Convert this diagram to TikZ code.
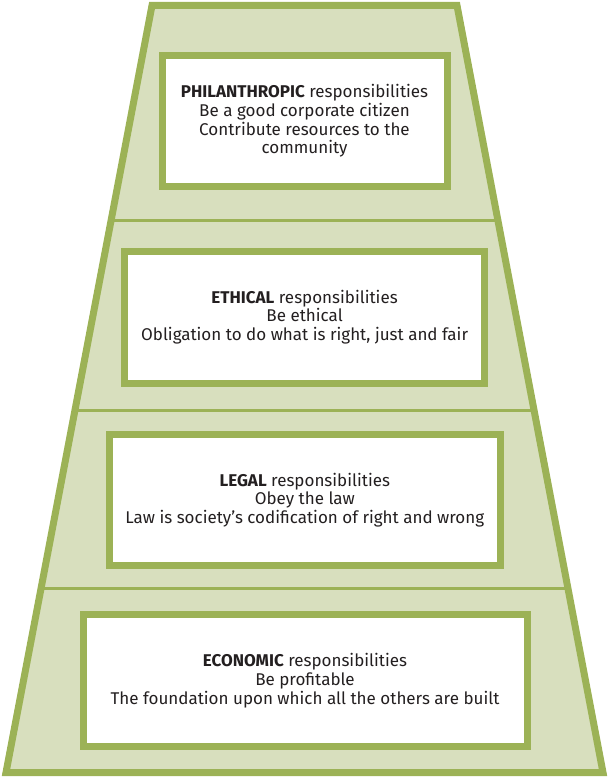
\documentclass[tikz,border=0pt]{standalone}
\usepackage{fontspec}
\setmainfont{Fira Sans}
\usetikzlibrary{calc}
\definecolor{pgreen}{HTML}{9CB256}
\definecolor{pfill}{HTML}{D8DFBE}
\definecolor{ptext}{HTML}{231F20}
\tikzset{
  levelbox/.style={draw=pgreen, line width=7pt, fill=white, align=center,
    font=\fontsize{17}{18.7}\selectfont, text=ptext, inner sep=0pt},
  divider/.style={draw=pgreen, line width=3pt},
}
\begin{document}
\begin{tikzpicture}[x=1pt,y=-1pt]
\useasboundingbox (0,0) rectangle (609,778);
\coordinate (tl) at (152,5.5);
\coordinate (tr) at (457,5.5);
\coordinate (br) at (603,772.5);
\coordinate (bl) at (6,772.5);
\filldraw[fill=pfill, draw=pgreen, line width=7pt, line join=miter] (tl) -- (tr) -- (br) -- (bl) -- cycle;
\foreach \yy/\nm in {221/a,410/b,588/c}{
  \coordinate (L\nm) at ($(tl)!{(\yy-5.5)/767}!(bl)$);
  \coordinate (R\nm) at ($(tr)!{(\yy-5.5)/767}!(br)$);
}
\draw[divider] (La) -- (Ra);
\draw[divider] (Lb) -- (Rb);
\draw[divider] (Lc) -- (Rc);
\node[levelbox, minimum width=285pt, minimum height=130.5pt] (phil) at (304.5,121)
  {\textbf{PHILANTHROPIC} responsibilities\\Be a good corporate citizen\\Contribute resources to the\\community};
\node[levelbox, minimum width=360pt, minimum height=132pt] (eth) at (304.6,317)
  {\textbf{ETHICAL} responsibilities\\Be ethical\\Obligation to do what is right, just and fair};
\node[levelbox, minimum width=391.5pt, minimum height=131pt] (leg) at (304.8,500)
  {\textbf{LEGAL} responsibilities\\Obey the law\\Law is society’s codification of right and wrong};
\node[levelbox, minimum width=444pt, minimum height=132pt] (eco) at (305,680.5)
  {\textbf{ECONOMIC} responsibilities\\Be profitable\\The foundation upon which all the others are built};
\end{tikzpicture}
\end{document}
